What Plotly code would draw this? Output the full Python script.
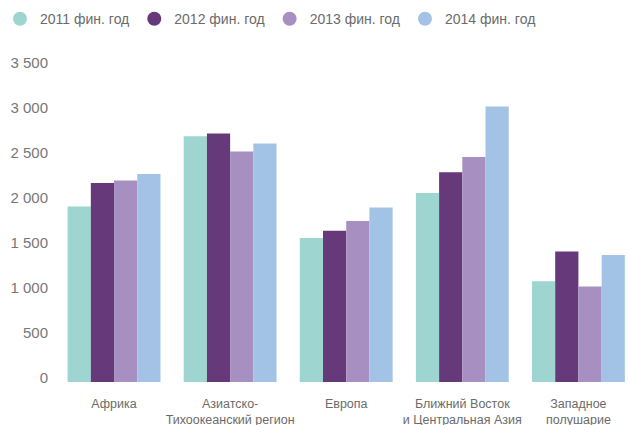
import plotly.graph_objects as go

categories = ["Африка", "Азиатско-<br>Тихоокеанский регион", "Европа",
              "Ближний Восток<br>и Центральная Азия", "Западное<br>полушарие"]
series_names = ["2011 фин. год", "2012 фин. год", "2013 фин. год", "2014 фин. год"]
fy2011 = [1950, 2730, 1600, 2100, 1120]
fy2012 = [2210, 2760, 1680, 2330, 1450]
fy2013 = [2240, 2560, 1790, 2500, 1060]
fy2014 = [2310, 2650, 1940, 3060, 1410]
colors = ["#9ed5d1", "#65397a", "#a88fc1", "#a3c3e6"]
y_ticks = [0, 500, 1000, 1500, 2000, 2500, 3000, 3500]

fig = go.Figure()
for name, vals, c in zip(series_names, [fy2011, fy2012, fy2013, fy2014], colors):
    fig.add_trace(go.Bar(x=categories, y=vals, name=name, marker_color=c,
                         marker_line_width=0, showlegend=False))
for name, c in zip(series_names, colors):
    fig.add_trace(go.Scatter(x=[None], y=[None], mode="markers", name=name,
                             marker=dict(symbol="circle", size=14, color=c)))

fig.update_layout(
    width=628, height=425,
    margin=dict(l=56, r=2, t=67, b=43, autoexpand=False),
    plot_bgcolor="white", paper_bgcolor="white",
    barmode="group", bargap=0.2, bargroupgap=0,
    separators=", ",
    font=dict(family="Liberation Sans, Arial, sans-serif", color="#6b6b6b"),
    legend=dict(orientation="h", xref="container", yref="container",
                x=-0.015, y=0.955, xanchor="left", yanchor="middle",
                font=dict(size=14, color="#6b6b6b"), itemwidth=30,
                tracegroupgap=0),
    showlegend=True,
)
fig.update_xaxes(type="category", range=[-0.5, 4.41], showline=False, showgrid=False,
                 ticks="", tickfont=dict(size=12.5, color="#6b6b6b"),
                 ticklabelstandoff=12, automargin=False, fixedrange=True)
fig.update_yaxes(range=[0, 3500], tickvals=y_ticks, tickformat=",d",
                 showgrid=False, zeroline=False, showline=False, ticks="",
                 tickfont=dict(size=15, color="#777777"), ticklabelstandoff=7,
                 ticklabelshift=-4, automargin=False)

fig.write_html("out.html", config={"displayModeBar": False},
               post_script="document.body.style.margin='0';document.body.style.overflow='hidden';")
